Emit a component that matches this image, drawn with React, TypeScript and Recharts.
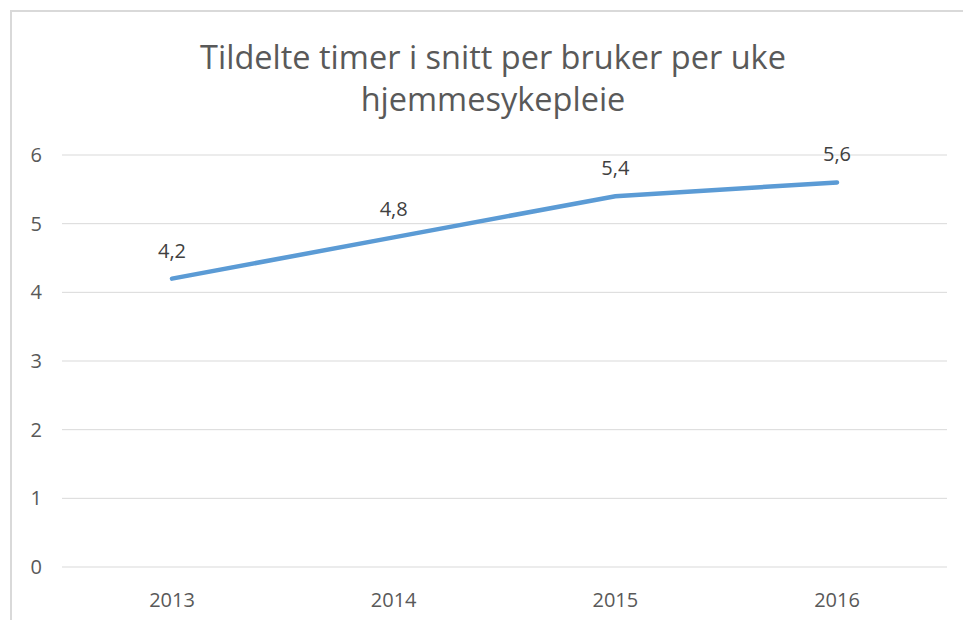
import React from "react";
import { LineChart, Line, XAxis, YAxis, CartesianGrid, LabelList } from "recharts";

const years = ["2013", "2014", "2015", "2016"];
const hours = [4.2, 4.8, 5.4, 5.6];
const yTicks = [0, 1, 2, 3, 4, 5, 6];

const data = years.map((year, i) => ({ year, hours: hours[i] }));

const font = "'Open Sans', 'Segoe UI', sans-serif";

const App: React.FC = () => (
  <div style={{ position: "absolute", left: 0, top: 0, width: 963, height: 620, overflow: "hidden", background: "#fff" }}>
    <div style={{ position: "absolute", left: 10, top: 10, width: 1000, height: 700, border: "2px solid #d9d9d9" }} />
    <div
      style={{
        position: "absolute",
        left: 0,
        top: 36,
        width: 986,
        textAlign: "center",
        fontFamily: font,
        fontSize: 32.5,
        lineHeight: "42px",
        color: "#595959",
      }}
    >
      Tildelte timer i snitt per bruker per uke
      <br />
      hjemmesykepleie
    </div>
    <LineChart width={963} height={620} data={data} margin={{ top: 155, right: 16, bottom: 23, left: 12 }}>
      <CartesianGrid vertical={false} stroke="#d9d9d9" strokeWidth={1} />
      <XAxis
        dataKey="year"
        axisLine={false}
        tickLine={false}
        padding={{ left: 110, right: 110 }}
        tick={{ fill: "#595959", fontSize: 20, fontFamily: font }}
        tickMargin={20}
      />
      <YAxis
        width={50}
        domain={[0, 6]}
        ticks={yTicks}
        axisLine={false}
        tickLine={false}
        tick={{ fill: "#595959", fontSize: 20, fontFamily: font }}
        tickMargin={14}
      />
      <Line
        type="linear"
        dataKey="hours"
        stroke="#5b9bd5"
        strokeWidth={4.5}
        strokeLinecap="round"
        dot={false}
        isAnimationActive={false}
      >
        <LabelList
          dataKey="hours"
          position="top"
          offset={21}
          formatter={(v: number) => String(v).replace(".", ",")}
          style={{ fill: "#404040", fontSize: 20, fontFamily: font }}
        />
      </Line>
    </LineChart>
  </div>
);

export default App;
